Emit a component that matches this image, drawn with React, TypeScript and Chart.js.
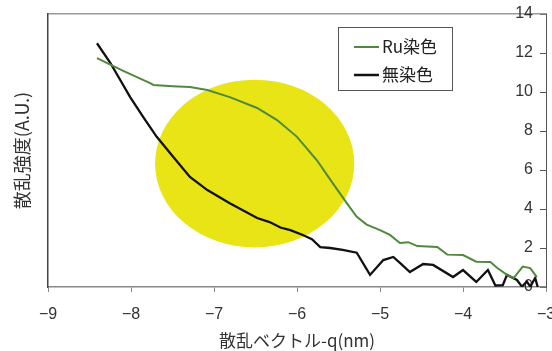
import { useEffect, useRef } from "react";
import { Chart, registerables } from "chart.js";

Chart.register(...registerables);

// ---- data ----
const seriesLabels = ["Ru染色", "無染色"];
const seriesColors = ["#4e8a3c", "#111111"];

const ruX = [-8.41, -8.1, -7.77, -7.73, -7.5, -7.29, -7.08, -6.81, -6.48, -6.24, -6.0, -5.76, -5.57, -5.4, -5.28, -5.16, -5.0, -4.88, -4.76, -4.66, -4.55, -4.31, -4.19, -4.0, -3.84, -3.67, -3.59, -3.47, -3.39, -3.28, -3.19, -3.11];
const ruY = [11.74, 11.1, 10.46, 10.36, 10.3, 10.26, 10.1, 9.74, 9.18, 8.56, 7.7, 6.5, 5.33, 4.3, 3.6, 3.2, 2.92, 2.67, 2.26, 2.3, 2.1, 2.05, 1.66, 1.64, 1.3, 1.28, 0.99, 0.62, 0.46, 1.05, 0.97, 0.51];

const plainX = [-8.41, -8.25, -8.01, -7.85, -7.69, -7.49, -7.29, -7.08, -6.81, -6.48, -6.33, -6.2, -6.08, -5.93, -5.82, -5.72, -5.6, -5.45, -5.28, -5.12, -4.96, -4.84, -4.75, -4.64, -4.48, -4.36, -4.12, -4.0, -3.84, -3.7, -3.61, -3.52, -3.47, -3.35, -3.29, -3.23, -3.19, -3.13, -3.1];
const plainY = [12.5, 11.5, 9.74, 8.7, 7.7, 6.67, 5.64, 4.97, 4.3, 3.54, 3.33, 3.05, 2.92, 2.67, 2.45, 2.05, 2.0, 1.9, 1.76, 0.62, 1.38, 1.54, 1.2, 0.77, 1.18, 1.13, 0.51, 0.87, 0.26, 0.87, 0.08, 0.1, 0.62, 0.36, 0.02, 0.28, 0.02, 0.46, 0.0];

const xTicks = [-9, -8, -7, -6, -5, -4, -3];
const yTicks = [0, 2, 4, 6, 8, 10, 12, 14];
const xTitle = "散乱ベクトル-q(nm)";
const yTitle = "散乱強度(A.U.)";

// highlighted region (data units)
const highlightCenter = [-6.51, 6.33];
const highlightRadius = [1.2, 4.3];
const highlightColor = "rgb(232,228,22)";

const JP = "'Noto Sans CJK JP', 'Noto Sans', sans-serif";
const NUM = "'Liberation Sans', Arial, sans-serif";

const ellipsePlugin = {
  id: "highlightEllipse",
  beforeDatasetsDraw(chart: any) {
    const { ctx, scales } = chart;
    const x = scales.x;
    const y = scales.y;
    const cx = x.getPixelForValue(highlightCenter[0]);
    const cy = y.getPixelForValue(highlightCenter[1]);
    const rx = Math.abs(x.getPixelForValue(highlightCenter[0] + highlightRadius[0]) - cx);
    const ry = Math.abs(y.getPixelForValue(highlightCenter[1] + highlightRadius[1]) - cy);
    ctx.save();
    ctx.fillStyle = highlightColor;
    ctx.beginPath();
    ctx.ellipse(cx, cy, rx, ry, 0, 0, Math.PI * 2);
    ctx.fill();
    ctx.restore();
  },
};

const legendPlugin = {
  id: "boxLegend",
  afterDraw(chart: any) {
    const { ctx, chartArea } = chart;
    const bx = chartArea.right - 208;
    const by = chartArea.top + 13;
    const bw = 114;
    const bh = 63;
    ctx.save();
    ctx.fillStyle = "#ffffff";
    ctx.fillRect(bx, by, bw, bh);
    ctx.strokeStyle = "#555";
    ctx.lineWidth = 1;
    ctx.strokeRect(bx + 0.5, by + 0.5, bw, bh);
    chart.data.datasets.forEach((ds: any, i: number) => {
      const ly = by + 20 + i * 28;
      ctx.strokeStyle = ds.borderColor;
      ctx.lineWidth = i === 0 ? 2 : 2.5;
      ctx.beginPath();
      ctx.moveTo(bx + 16, ly);
      ctx.lineTo(bx + 41, ly);
      ctx.stroke();
      ctx.fillStyle = "#222";
      ctx.font = `17px ${JP}`;
      ctx.textBaseline = "middle";
      ctx.textAlign = "left";
      ctx.fillText(ds.label, bx + 44, ly);
    });
    ctx.restore();
  },
};

export default function App() {
  const ref = useRef<HTMLCanvasElement | null>(null);

  useEffect(() => {
    if (!ref.current) return;
    const toPts = (xs: number[], ys: number[]) => xs.map((v, i) => ({ x: v, y: ys[i] }));
    const chart = new Chart(ref.current, {
      type: "line",
      data: {
        datasets: [
          {
            label: seriesLabels[0],
            data: toPts(ruX, ruY),
            borderColor: seriesColors[0],
            borderWidth: 2,
            pointRadius: 0,
            tension: 0,
            fill: false,
          },
          {
            label: seriesLabels[1],
            data: toPts(plainX, plainY),
            borderColor: seriesColors[1],
            borderWidth: 2.3,
            pointRadius: 0,
            tension: 0,
            fill: false,
          },
        ],
      },
      options: {
        responsive: false,
        animation: false,
        layout: { padding: 0 },
        plugins: { legend: { display: false }, tooltip: { enabled: false } },
        scales: {
          x: {
            type: "linear",
            position: "bottom",
            min: -9,
            max: -3,
            afterBuildTicks: (s: any) => {
              s.ticks = xTicks.map((v) => ({ value: v }));
            },
            afterFit: (s: any) => {
              s.height = 64;
              s.paddingLeft = 0;
              s.paddingRight = 0;
            },
            ticks: {
              autoSkip: false,
              maxRotation: 0,
              padding: 13,
              color: "#333",
              font: { family: NUM, size: 16 },
              callback: (v: any) => String(v).replace("-", "\u2212"),
            },
            grid: { display: true, drawOnChartArea: false, tickLength: 5, color: "#888", lineWidth: 1 },
            border: { display: true, color: "#888", width: 1.5 },
            title: { display: true, text: xTitle, color: "#333", font: { family: JP, size: 17 }, padding: { top: 0, bottom: 0 } },
          },
          xTop: {
            type: "linear",
            position: "top",
            min: -9,
            max: -3,
            display: true,
            ticks: { display: false },
            grid: { display: false },
            border: { display: true, color: "#999", width: 1.5 },
            afterFit: (s: any) => {
              s.height = 14;
              s.paddingLeft = 0;
              s.paddingRight = 0;
            },
          },
          y: {
            type: "linear",
            position: "right",
            min: 0,
            max: 14,
            afterBuildTicks: (s: any) => {
              s.ticks = yTicks.map((v) => ({ value: v }));
            },
            afterFit: (s: any) => {
              s.width = 6;
              s.paddingTop = 0;
              s.paddingBottom = 0;
            },
            ticks: {
              mirror: true,
              padding: -13,
              color: "#333",
              font: { family: NUM, size: 16 },
            },
            grid: { display: true, drawOnChartArea: false, tickLength: -6, color: "#555", lineWidth: 1 },
            border: { display: true, color: "#555", width: 1 },
          },
          yLeft: {
            type: "linear",
            position: "left",
            min: 0,
            max: 14,
            display: true,
            ticks: { display: false },
            grid: { display: false },
            border: { display: true, color: "#444", width: 1.5 },
            title: { display: true, text: yTitle, color: "#333", font: { family: JP, size: 18 }, padding: { top: 11, bottom: 0 } },
            afterFit: (s: any) => {
              s.width = 48;
              s.paddingTop = 0;
              s.paddingBottom = 0;
            },
          },
        },
      } as any,
      plugins: [ellipsePlugin, legendPlugin],
    });
    return () => chart.destroy();
  }, []);

  return (
    <div style={{ position: "fixed", left: 0, top: 0, width: 552, height: 351, background: "#fff" }}>
      <canvas ref={ref} width={552} height={351} style={{ display: "block" }} />
    </div>
  );
}
